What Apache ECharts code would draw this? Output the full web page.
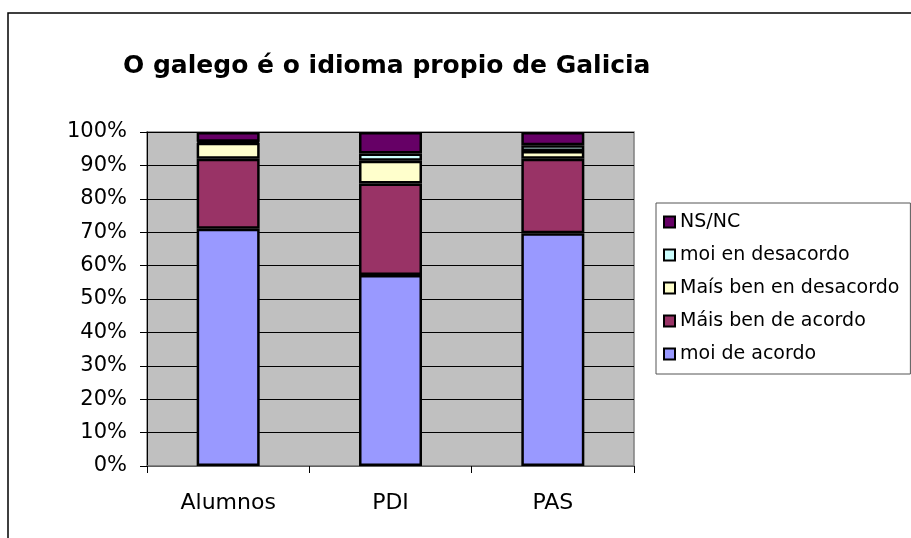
<!DOCTYPE html>
<html>
<head>
<meta charset="utf-8">
<script src="https://cdn.jsdelivr.net/npm/echarts@6/dist/echarts.min.js"></script>
<style>
html,body{margin:0;padding:0;background:#fff;}
#chart{width:911px;height:538px;}
</style>
</head>
<body>
<div id="chart"></div>
<script>
const categories = ['Alumnos', 'PDI', 'PAS'];
const moiDeAcordo = [71.0, 57.2, 69.7];
const maisBenDeAcordo = [21.0, 27.4, 22.3];
const maisBenEnDesacordo = [4.8, 6.8, 2.3];
const moiEnDesacordo = [0.3, 2.2, 1.7];
const nsnc = [2.9, 6.4, 4.0];
const yTicks = [0, 10, 20, 30, 40, 50, 60, 70, 80, 90, 100];

const FONT = 'DejaVu Sans';
const chart = echarts.init(document.getElementById('chart'));

function bar(name, data, color) {
  return {
    name: name, type: 'bar', stack: 'total', data: data, barWidth: 63,
    itemStyle: { color: color, borderColor: '#000', borderWidth: 2.5 },
    emphasis: { disabled: true }
  };
}

chart.setOption({
  animation: false,
  backgroundColor: '#fff',
  graphic: [{
    type: 'rect', shape: { x: 8, y: 13, width: 1000, height: 1000 },
    style: { fill: 'none', stroke: '#000', lineWidth: 1.5 }, z: -1
  }],
  title: {
    text: 'O galego é o idioma propio de Galicia',
    left: 118, top: 49,
    textStyle: { fontFamily: FONT, fontWeight: 'bold', fontSize: 25, color: '#000' }
  },
  legend: {
    orient: 'vertical', left: 656, top: 203,
    data: ['NS/NC', 'moi en desacordo', 'Maís ben en desacordo', 'Máis ben de acordo', 'moi de acordo'],
    itemWidth: 11, itemHeight: 11, itemGap: 13,
    padding: [9, 11, 10, 7],
    borderColor: '#555', borderWidth: 1, backgroundColor: '#fff',
    icon: 'rect',
    selectedMode: false,
    textStyle: { fontFamily: FONT, fontSize: 19, color: '#000', lineHeight: 20 }
  },
  grid: { left: 147, top: 132, right: 277, bottom: 72, show: true, backgroundColor: '#C0C0C0', borderColor: '#808080', borderWidth: 1.5 },
  xAxis: {
    type: 'category', data: categories,
    axisLine: { lineStyle: { color: '#808080', width: 1.5 } },
    axisTick: { show: true, length: 7, lineStyle: { color: '#000' } },
    axisLabel: { fontFamily: FONT, fontSize: 22, color: '#000', margin: 26 }
  },
  yAxis: {
    type: 'value', min: 0, max: 100, interval: 10,
    axisLine: { show: true, lineStyle: { color: '#000', width: 1 } },
    axisTick: { show: true, length: 7, lineStyle: { color: '#000' } },
    axisLabel: { fontFamily: FONT, fontSize: 21, color: '#000', margin: 20, formatter: '{value}%' },
    splitLine: { show: true, lineStyle: { color: '#000', width: 1 } }
  },
  series: [
    bar('moi de acordo', moiDeAcordo, '#9999FF'),
    bar('Máis ben de acordo', maisBenDeAcordo, '#993366'),
    bar('Maís ben en desacordo', maisBenEnDesacordo, '#FFFFCC'),
    bar('moi en desacordo', moiEnDesacordo, '#CCFFFF'),
    bar('NS/NC', nsnc, '#660066')
  ]
});
</script>
</body>
</html>
